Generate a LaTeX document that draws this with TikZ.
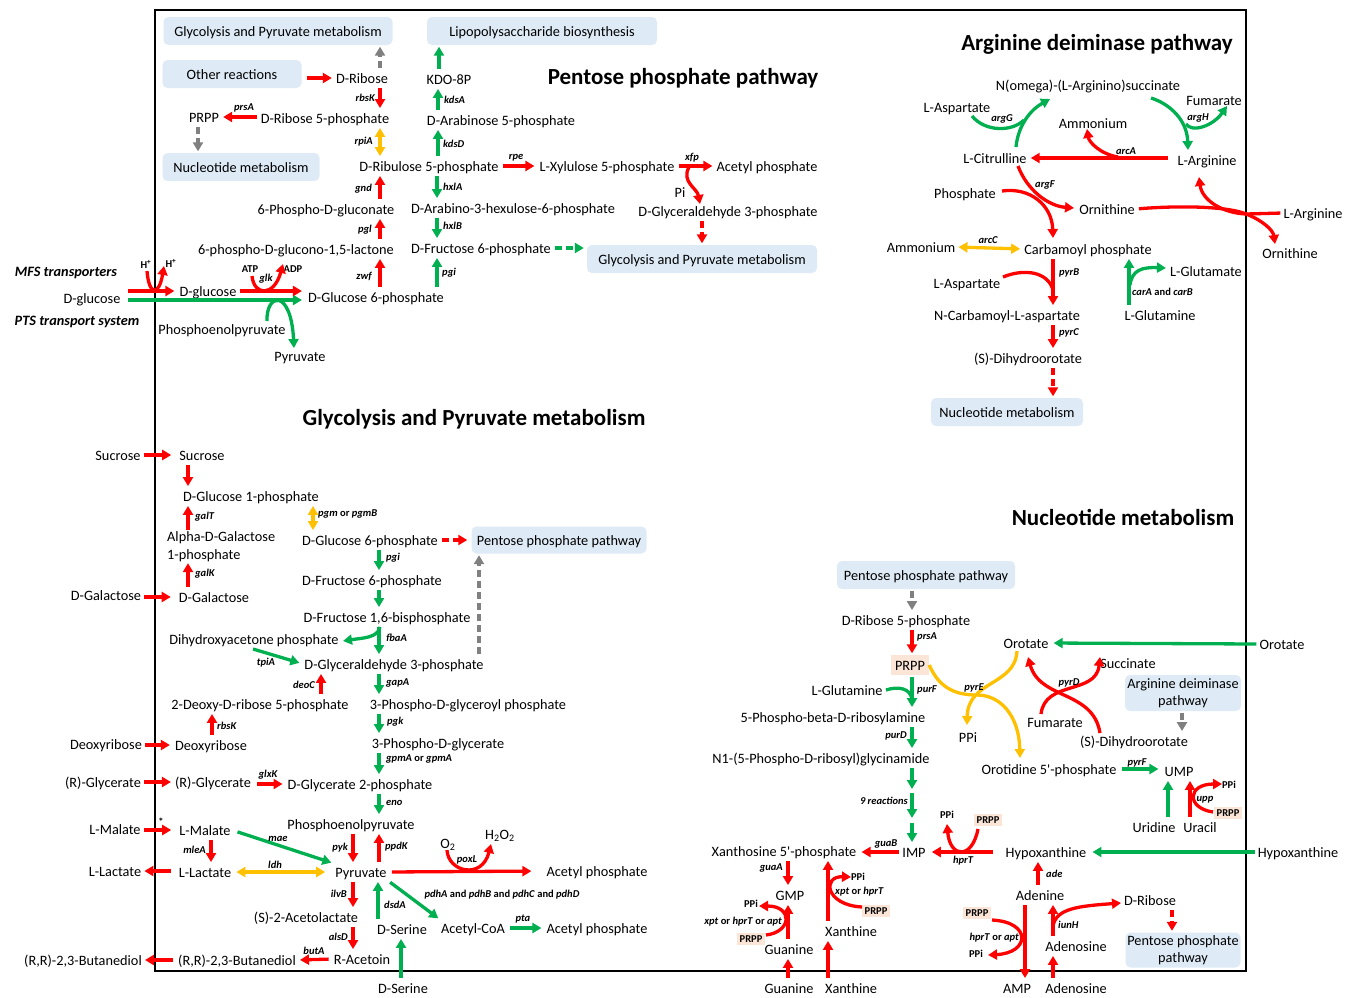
\documentclass[tikz,border=0pt]{standalone}
\usepackage{fontspec}
\setmainfont{Carlito}
\usetikzlibrary{arrows.meta}
\definecolor{cr}{RGB}{255,0,0}
\definecolor{cg}{RGB}{0,176,80}
\definecolor{cy}{RGB}{255,192,0}
\definecolor{cgr}{RGB}{128,128,128}
\definecolor{cbox}{RGB}{222,235,247}
\definecolor{cpe}{RGB}{251,229,214}
\tikzset{
  t/.style={font=\fontsize{14.3pt}{16pt}\selectfont, inner sep=1pt, text height=12.5pt, text depth=2pt},
  g/.style={font=\fontsize{10.5pt}{12pt}\selectfont\bfseries\itshape, inner sep=0pt},
  sm/.style={font=\fontsize{10.5pt}{12pt}\selectfont\bfseries, inner sep=0pt},
  smb/.style={sm, fill=cpe, inner xsep=3pt, inner ysep=3pt},
  bi/.style={font=\fontsize{14.3pt}{16pt}\selectfont\bfseries\itshape, inner sep=0pt},
  ttl/.style={font=\fontsize{23pt}{26pt}\selectfont\bfseries, inner sep=0pt},
  bx/.style={t, fill=cbox, rounded corners=5pt, minimum height=28pt},
  bxx/.style={font=\fontsize{14.3pt}{17.5pt}\selectfont, fill=cbox, rounded corners=5pt, align=center, inner sep=1pt},
  tipa/.style={-{Triangle[length=9pt,width=10pt]}},
  arr/.style={line width=3.3pt, tipa, shorten <=1.5pt, shorten >=1.5pt},
  ra/.style={arr, draw=cr},
  ga/.style={arr, draw=cg},
  ysa/.style={arr, draw=cy},
  ya/.style={arr, draw=cy, {Triangle[length=9pt,width=10pt]}-{Triangle[length=9pt,width=10pt]}},
  gra/.style={arr, draw=cgr},
  da/.style={dash pattern=on 7pt off 4pt},
  cv/.style={shorten <=0pt, shorten >=0pt},
  rl/.style={line width=3.3pt, draw=cr},
  gl/.style={line width=3.3pt, draw=cg},
}
\begin{document}
\begin{tikzpicture}[x=1pt,y=-1pt]
\fill[white] (0,0) rectangle (1351,997);
\useasboundingbox (0,0) rectangle (1351,997);
\draw[line width=1.8pt] (155,10) rectangle (1246,971);
% column coordinates
\foreach \xx in {380,198,439,438,437,700,702,267,294,1053,1129,188,313,379,479,321,212,211,353,378,401,912,788,828,1038,1025,1172,1182,1168,1190}
  {\coordinate (x\xx) at (\xx,0);}
\coordinate (y300) at (0,300);

% ================= Pentose phosphate pathway =================
\node[bx, minimum width=229pt] (bGly1) at (278,31) {Glycolysis and Pyruvate metabolism};
\node[bx, minimum width=139pt] (bOth) at (232,74) {Other reactions};
\node[bx, minimum width=157pt] (bNuc1) at (241,167) {Nucleotide metabolism};
\node[bx, minimum width=230pt] (bLPS) at (542,31) {Lipopolysaccharide biosynthesis};
\node[bx, minimum width=230pt] (bGly2) at (702,259) {Glycolysis and Pyruvate metabolism};
\node[ttl] (tPPP) at (683,78) {Pentose phosphate pathway};
\node[t] (dRib) at (362,78) {D-Ribose};
\node[t] (R5P) at (325,118) {D-Ribose 5-phosphate};
\node[t] (PRPP1) at (204,117) {PRPP};
\node[t] (Ru5P) at (429,166) {D-Ribulose 5-phosphate};
\node[t] (PGn) at (326,209) {6-Phospho-D-gluconate};
\node[t] (PGL) at (296,249) {6-phospho-D-glucono-1,5-lactone};
\node[t] (G6Pa) at (376,297) {D-Glucose 6-phosphate};
\node[t] (glcI) at (208,291) {D-glucose};
\node[t] (glcO) at (92,298) {D-glucose};
\node[bi] (MFS) at (66,273) {MFS transporters};
\node[bi] (PTS) at (77,322) {PTS transport system};
\node[t] (PEPa) at (222,329) {Phosphoenolpyruvate};
\node[t] (Pyra) at (300,356) {Pyruvate};
\node[t] (KDO) at (449,79) {KDO-8P};
\node[t] (A5P) at (501,120) {D-Arabinose 5-phosphate};
\node[t] (Xu5P) at (607,166) {L-Xylulose 5-phosphate};
\node[t] (AcPa) at (767,166) {Acetyl phosphate};
\node[t] (Pi) at (680,192) {Pi};
\node[t] (GAPa) at (728,211) {D-Glyceraldehyde 3-phosphate};
\node[t] (AH6P) at (513,208) {D-Arabino-3-hexulose-6-phosphate};
\node[t] (F6Pa) at (481,248) {D-Fructose 6-phosphate};
\node[sm] (Hp1) at (146,264) {H\textsuperscript{+}};
\node[sm] (Hp2) at (171,263) {H\textsuperscript{+}};
\node[sm] (ATP) at (250,269) {ATP};
\node[sm] (ADP) at (293,269) {ADP};

\draw[gra,da] (dRib.north -| x380) -- (bGly1.south -| x380);
\draw[ra, shorten <=5pt, shorten >=3pt] (bOth.east |- dRib) -- (dRib.west);
\draw[ra] (dRib.south -| x380) -- (R5P.north -| x380);
\node[g, anchor=east] (l1) at (375,98) {rbsK};
\draw[ra, shorten <=3pt, shorten >=3pt] (R5P.west |- PRPP1) -- (PRPP1.east);
\node[g] (l2) at (244,108) {prsA};
\draw[gra,da] (PRPP1.south -| x198) -- (bNuc1.north -| x198);
\draw[ya] (R5P.south -| x380) -- (Ru5P.north -| x380);
\node[g, anchor=east] (l3) at (373,142) {rpiA};
\draw[ra] (PGn.north -| x380) -- (Ru5P.south -| x380);
\node[g, anchor=east] (l4) at (372,189) {gnd};
\draw[ra] (PGL.north -| x380) -- (PGn.south -| x380);
\node[g, anchor=east] (l5) at (372,230) {pgl};
\draw[ra] (G6Pa.north -| x380) -- (PGL.south -| x380);
\node[g, anchor=east] (l6) at (372,276) {zwf};
\draw[ga] (KDO.north -| x439) -- (bLPS.south -| x439);
\draw[ga] (A5P.north -| x438) -- (KDO.south -| x438);
\node[g, anchor=west] (l7) at (444,100) {kdsA};
\draw[ga] (Ru5P.north -| x438) -- (A5P.south -| x438);
\node[g, anchor=west] (l8) at (443,144) {kdsD};
\draw[ga] (Ru5P.south -| x437) -- (AH6P.north -| x437);
\node[g, anchor=west] (l9) at (443,187) {hxlA};
\draw[ga] (AH6P.south -| x437) -- (F6Pa.north -| x437);
\node[g, anchor=west] (l10) at (443,226) {hxlB};
\draw[ga] (G6Pa.north -| x437) -- (F6Pa.south -| x437);
\node[g, anchor=west] (l11) at (442,273) {pgi};
\draw[ga,da, shorten <=3pt, shorten >=3pt] (F6Pa.east) -- (bGly2.west |- F6Pa.east);
\draw[ra, shorten <=3pt, shorten >=4pt] (Ru5P.east) -- (Xu5P.west);
\node[g] (l12) at (516,158) {rpe};
\draw[ra, shorten <=3pt, shorten >=3pt] (Xu5P.east) -- (AcPa.west);
\node[g] (l13) at (692,158) {xfp};
\coordinate (xfpJ) at (689,167);
\coordinate (xfpE) at (700,204);
\draw[ra, cv] (xfpJ) .. controls (681,182) and (697,188) .. (xfpE);
\draw[ra,da] (GAPa.south -| x702) -- (bGly2.north -| x702);
\draw[ra, shorten <=6pt, shorten >=4pt] (glcO.east |- glcI) -- (glcI.west);
\coordinate (hA) at (147,271);
\coordinate (hB) at (164,266);
\draw[ra, cv] (hA) .. controls (149,296) and (159,296) .. (hB);
\draw[ga, shorten <=6pt, shorten >=5pt] (glcO.east |- y300) -- (G6Pa.west |- y300);
\coordinate (pA) at (267,321);
\coordinate (pB) at (294,348);
\draw[ga, cv] (pA) .. controls (266,293) and (291,288) .. (pB);
\draw[ra, shorten <=2pt, shorten >=5pt] (glcI.east) -- (G6Pa.west |- glcI);
\coordinate (atpS) at (252,276);
\coordinate (adpE) at (283,264);
\draw[ra, cv] (atpS) .. controls (254,296) and (274,297) .. (adpE);
\node[g] (l14) at (266,279) {glk};

% ================= Arginine deiminase pathway =================
\node[ttl] (tADI) at (1097,44) {Arginine deiminase pathway};
\node[t] (NAS) at (1088,85) {N(omega)-(L-Arginino)succinate};
\node[t] (Asp1) at (957,107) {L-Aspartate};
\node[t] (Fum1) at (1214,100) {Fumarate};
\node[t] (Amm1) at (1093,123) {Ammonium};
\node[t] (Cit) at (995,158) {L-Citrulline};
\node[t] (Arg) at (1207,160) {L-Arginine};
\node[t] (Phos) at (965,193) {Phosphate};
\node[t] (Orn) at (1107,209) {Ornithine};
\node[t] (ArgO) at (1313,213) {L-Arginine};
\node[t] (OrnO) at (1290,253) {Ornithine};
\node[t] (Amm2) at (921,247) {Ammonium};
\node[t] (CP) at (1088,249) {Carbamoyl phosphate};
\node[t] (Glu) at (1206,271) {L-Glutamate};
\node[t] (Asp2) at (967,283) {L-Aspartate};
\node[t] (NCA) at (1007,315) {N-Carbamoyl-L-aspartate};
\node[t] (Gln1) at (1160,315) {L-Glutamine};
\node[t] (DHO1) at (1028,358) {(S)-Dihydroorotate};
\node[bx, minimum width=152pt] (bNuc2) at (1007,412) {Nucleotide metabolism};

\coordinate (a1) at (1016,147); \coordinate (a2) at (1050,99);
\draw[ga, cv] (a1) .. controls (1018,126) and (1030,110) .. (a2);
\coordinate (a3) at (972,116); \coordinate (a4) at (1024,120);
\draw[gl] (a3) .. controls (985,132) and (1012,132) .. (a4);
\node[g] (l15) at (1002,119) {argG};
\coordinate (a5) at (1151,98); \coordinate (a6) at (1188,150);
\draw[ga, cv] (a5) .. controls (1170,104) and (1187,120) .. (a6);
\coordinate (a7) at (1186,124); \coordinate (a8) at (1227,106);
\draw[ga, cv] (a7) .. controls (1192,133) and (1213,126) .. (a8);
\node[g] (l16) at (1198,118) {argH};
\draw[ra, shorten <=8pt, shorten >=3pt] (Arg.west |- Cit) -- (Cit.east);
\coordinate (a9) at (1118,157); \coordinate (a10) at (1087,129);
\draw[ra, cv] (a9) .. controls (1100,154) and (1089,142) .. (a10);
\node[g] (l17) at (1126,151) {arcA};
\coordinate (a11) at (1018,166); \coordinate (a12) at (1074,208);
\draw[ra, cv] (a11) .. controls (1027,190) and (1048,206) .. (a12);
\coordinate (a13) at (1002,191); \coordinate (a14) at (1053,238);
\draw[ra, cv] (a13) .. controls (1030,187) and (1052,205) .. (a14);
\node[g] (l18) at (1045,185) {argF};
\coordinate (a16) at (1246,214); \coordinate (a17) at (1275,244);
\draw[ra, shorten <=3pt, shorten >=0pt] (Orn.east) .. controls (1185,205) and (1230,207) .. (a16) .. controls (1262,220) and (1273,230) .. (a17);
\coordinate (a18) at (1199,177);
\draw[ra, shorten <=2pt, shorten >=0pt] (ArgO.west) -- (a16) .. controls (1222,213) and (1202,200) .. (a18);
\draw[ya, shorten <=2pt, shorten >=3pt] (Amm2.east) -- (CP.west);
\node[g] (l19) at (988,240) {arcC};
\draw[ra] (CP.south -| x1053) -- (NCA.north -| x1053);
\coordinate (a19) at (1003,277); \coordinate (a20) at (1053,290);
\draw[rl] (a19) .. controls (1025,268) and (1048,272) .. (a20);
\node[g, anchor=west] (l20) at (1059,273) {pyrB};
\draw[ga] (Gln1.north -| x1129) -- (CP.south -| x1129);
\coordinate (a21) at (1130,285); \coordinate (a22) at (1166,268);
\draw[ga, cv] (a21) .. controls (1132,270) and (1142,267) .. (a22);
\node[g, anchor=west] (l21) at (1132,292) {carA \textup{and} carB};
\draw[ra] (NCA.south -| x1053) -- (DHO1.north -| x1053);
\node[g, anchor=west] (l22) at (1059,333) {pyrC};
\draw[ra,da] (DHO1.south -| x1053) -- (bNuc2.north -| x1053);

% ================= Glycolysis and Pyruvate metabolism =================
\node[ttl] (tGly) at (474,419) {Glycolysis and Pyruvate metabolism};
\node[t] (SucO) at (118,455) {Sucrose};
\node[t] (SucI) at (202,455) {Sucrose};
\node[t] (G1P) at (251,496) {D-Glucose 1-phosphate};
\node[font=\fontsize{14.3pt}{18pt}\selectfont, align=left, anchor=north west, inner sep=0pt] (aGal) at (167,531) {Alpha-D-Galactose\\1-phosphate};
\node[t] (GalO) at (106,595) {D-Galactose};
\node[t] (GalI) at (214,597) {D-Galactose};
\node[t] (G6Pb) at (370,540) {D-Glucose 6-phosphate};
\node[bx, minimum width=175pt, minimum height=27pt] (bPPP2) at (559,540) {Pentose phosphate pathway};
\node[t] (F6Pb) at (372,580) {D-Fructose 6-phosphate};
\node[t] (FBP) at (387,617) {D-Fructose 1,6-bisphosphate};
\node[t] (DHAP) at (254,639) {Dihydroxyacetone phosphate};
\node[t] (GAPb) at (394,664) {D-Glyceraldehyde 3-phosphate};
\node[t] (dRP) at (260,704) {2-Deoxy-D-ribose 5-phosphate};
\node[t] (PGP) at (468,704) {3-Phospho-D-glyceroyl phosphate};
\node[t] (PG3) at (438,743) {3-Phospho-D-glycerate};
\node[t] (dRibO) at (106,744) {Deoxyribose};
\node[t] (dRibI) at (211,745) {Deoxyribose};
\node[t] (GlyO) at (103,782) {(R)-Glycerate};
\node[t] (GlyI) at (213,782) {(R)-Glycerate};
\node[t] (DG2P) at (360,784) {D-Glycerate 2-phosphate};
\node[t] (PEPb) at (351,824) {Phosphoenolpyruvate};
\node[t] (MalO) at (115,829) {L-Malate};
\node[sm] (star) at (161,822) {*};
\node[t] (MalI) at (205,830) {L-Malate};
\node[t] (LacI) at (205,872) {L-Lactate};
\node[t] (LacO) at (115,871) {L-Lactate};
\node[t] (Pyrb) at (361,872) {Pyruvate};
\node[t] (AcL) at (306,917) {(S)-2-Acetolactate};
\node[t] (SerI) at (402,929) {D-Serine};
\node[t] (Acn) at (362,959) {R-Acetoin};
\node[t] (BdI) at (237,960) {(R,R)-2,3-Butanediol};
\node[t] (BdO) at (83,960) {(R,R)-2,3-Butanediol};
\node[t] (SerO) at (403,988) {D-Serine};
\node[t] (AcPb) at (597,871) {Acetyl phosphate};
\node[t] (AcCoA) at (473,928) {Acetyl-CoA};
\node[t] (AcPc) at (597,928) {Acetyl phosphate};
\node[t] (O2) at (448,843) {O\textsubscript{2}};
\node[t] (H2O2) at (500,834) {H\textsubscript{2}O\textsubscript{2}};

\draw[ra, shorten <=2pt, shorten >=7pt] (SucO.east) -- (SucI.west);
\draw[ra] (SucI.south -| x188) -- (G1P.north -| x188);
\draw[ya] (G1P.south -| x313) -- (G6Pb.north -| x313);
\node[g, anchor=west] (l23) at (318,514) {pgm \textup{or} pgmB};
\draw[ra] (aGal.north -| x188) -- (G1P.south -| x188);
\node[g, anchor=west] (l24) at (195,517) {galT};
\draw[ra] (GalI.north -| x188) -- (aGal.south -| x188);
\node[g, anchor=west] (l25) at (195,574) {galK};
\draw[ra, shorten <=2pt, shorten >=7pt] (GalO.east |- GalI) -- (GalI.west);
\draw[ra,da, shorten <=3pt, shorten >=4pt] (G6Pb.east) -- (bPPP2.west |- G6Pb.east);
\draw[ga] (G6Pb.south -| x379) -- (F6Pb.north -| x379);
\node[g, anchor=west] (l26) at (386,558) {pgi};
\draw[ga] (F6Pb.south -| x379) -- (FBP.north -| x379);
\draw[ga] (FBP.south -| x379) -- (GAPb.north -| x379);
\node[g, anchor=west] (l27) at (386,638) {fbaA};
\coordinate (b1) at (380,627); \coordinate (b2) at (343,641);
\draw[ga, cv] (b1) .. controls (378,638) and (362,638) .. (b2);
\coordinate (b3) at (253,649);
\draw[ga, shorten <=0pt, shorten >=4pt] (b3) -- (GAPb.west);
\node[g] (l28) at (266,663) {tpiA};
\draw[gra,da] (GAPb.north -| x479) -- (bPPP2.south -| x479);
\draw[ra] (dRP.north -| x321) -- (GAPb.south -| x321);
\node[g, anchor=east] (l29) at (315,685) {deoC};
\draw[ga] (GAPb.south -| x379) -- (PGP.north -| x379);
\node[g, anchor=west] (l30) at (386,683) {gapA};
\draw[ga] (PGP.south -| x379) -- (PG3.north -| x379);
\node[g, anchor=west] (l31) at (387,722) {pgk};
\draw[ga] (PG3.south -| x379) -- (DG2P.north -| x379);
\node[g, anchor=west] (l32) at (386,759) {gpmA \textup{or} gpmA};
\draw[ra] (dRibI.north -| x212) -- (dRP.south -| x212);
\node[g, anchor=west] (l33) at (217,726) {rbsK};
\draw[ra, shorten <=2pt, shorten >=4pt] (dRibO.east |- dRibI) -- (dRibI.west);
\draw[ra, shorten <=2pt, shorten >=3pt] (GlyO.east) -- (GlyI.west);
\draw[ra, shorten <=5pt, shorten >=4pt] (GlyI.east |- DG2P) -- (DG2P.west);
\node[g] (l34) at (268,775) {glxK};
\draw[ga] (DG2P.south -| x379) -- (PEPb.north -| x379);
\node[g, anchor=west] (l35) at (386,803) {eno};
\draw[ra, shorten <=2pt, shorten >=7pt] (MalO.east |- MalI) -- (MalI.west);
\draw[ga, shorten <=6pt, shorten >=3pt] (MalI.east) -- (Pyrb.north west);
\node[g] (l36) at (278,839) {mae};
\draw[ra] (MalI.south -| x211) -- (LacI.north -| x211);
\node[g, anchor=east] (l37) at (206,850) {mleA};
\draw[ra, shorten <=7pt, shorten >=2pt] (LacI.west |- LacO) -- (LacO.east);
\draw[ya, shorten <=4pt, shorten >=9pt] (LacI.east) -- (Pyrb.west |- LacI.east);
\node[g] (l38) at (275,865) {ldh};
\draw[ra] (PEPb.south -| x353) -- (Pyrb.north -| x353);
\node[g, anchor=east] (l39) at (348,848) {pyk};
\draw[ra] (Pyrb.north -| x379) -- (PEPb.south -| x379);
\node[g, anchor=west] (l40) at (385,847) {ppdK};
\draw[ra] (Pyrb.south -| x353) -- (AcL.north -| x353);
\node[g, anchor=east] (l41) at (347,894) {ilvB};
\draw[ga] (SerI.north -| x378) -- (Pyrb.south -| x378);
\node[g, anchor=west] (l42) at (384,905) {dsdA};
\draw[ra] (AcL.south -| x353) -- (Acn.north -| x353);
\node[g, anchor=east] (l43) at (348,937) {alsD};
\draw[ga] (SerO.north -| x401) -- (SerI.south -| x401);
\draw[ra, shorten <=4pt, shorten >=3pt] (Acn.west) -- (BdI.east);
\node[g] (l44) at (314,951) {butA};
\draw[ra, shorten <=4pt, shorten >=2pt] (BdI.west) -- (BdO.east);
\draw[ra, shorten <=4pt, shorten >=14pt] (Pyrb.east) -- (AcPb.west);
\coordinate (b4) at (447,850); \coordinate (b5) at (491,844);
\draw[ra, cv] (b4) .. controls (448,872) and (482,880) .. (b5);
\node[g] (l45) at (467,860) {poxL};
\draw[ga, shorten <=3pt, shorten >=2pt] (Pyrb.south east) -- (AcCoA.north west);
\node[sm] (l46) at (502,895) {\textit{pdhA} and \textit{pdhB} and \textit{pdhC} and \textit{pdhD}};
\draw[ga, shorten <=4pt, shorten >=4pt] (AcCoA.east) -- (AcPc.west);
\node[g] (l47) at (523,919) {pta};

% ================= Nucleotide metabolism =================
\node[ttl] (tNuc) at (1123,517) {Nucleotide metabolism};
\node[bx, minimum width=178pt] (bPPP3) at (926,575) {Pentose phosphate pathway};
\node[t] (R5Pb) at (906,620) {D-Ribose 5-phosphate};
\node[t, fill=cpe, minimum width=38pt, minimum height=20pt] (PRPP2) at (910,665) {PRPP};
\node[t] (Gln2) at (847,690) {L-Glutamine};
\node[t] (PRA) at (833,717) {5-Phospho-beta-D-ribosylamine};
\node[t] (GAR) at (821,758) {N1-(5-Phospho-D-ribosyl)glycinamide};
\node[t] (IMP) at (914,852) {IMP};
\node[t] (XMP) at (784,851) {Xanthosine 5\textquotesingle-phosphate};
\node[t] (Hx) at (1046,852) {Hypoxanthine};
\node[t] (HxO) at (1298,852) {Hypoxanthine};
\node[t] (GMP) at (790,895) {GMP};
\node[t] (Gua) at (789,949) {Guanine};
\node[t] (GuaO) at (789,988) {Guanine};
\node[t] (Xan) at (851,931) {Xanthine};
\node[t] (XanO) at (851,988) {Xanthine};
\node[t] (Ade) at (1040,895) {Adenine};
\node[t] (AMP) at (1017,988) {AMP};
\node[t] (Ado) at (1076,946) {Adenosine};
\node[t] (AdoO) at (1076,988) {Adenosine};
\node[t] (dRibc) at (1150,900) {D-Ribose};
\node[bxx, minimum width=115pt, minimum height=35pt] (bPPP4) at (1183,950) {Pentose phosphate\\pathway};
\node[t] (Oro) at (1026,643) {Orotate};
\node[t] (OroO) at (1282,644) {Orotate};
\node[t] (Succ) at (1128,663) {Succinate};
\node[bxx, minimum width=116pt, minimum height=36pt] (bADI) at (1183,693) {Arginine deiminase\\pathway};
\node[t] (Fum2) at (1055,722) {Fumarate};
\node[t] (DHO2) at (1134,741) {(S)-Dihydroorotate};
\node[t] (PPia) at (968,737) {PPi};
\node[t] (OMP) at (1049,769) {Orotidine 5\textquotesingle-phosphate};
\node[t] (UMP) at (1179,771) {UMP};
\node[t] (Urd) at (1154,827) {Uridine};
\node[t] (Ura) at (1200,827) {Uracil};
\node[sm] (PPib) at (947,815) {PPi};
\node[smb] (PRPPb) at (988,820) {PRPP};
\node[sm] (PPic) at (751,904) {PPi};
\node[smb] (PRPPc) at (751,939) {PRPP};
\node[sm] (PPid) at (858,877) {PPi};
\node[smb] (PRPPd) at (876,911) {PRPP};
\node[smb] (PRPPe) at (977,913) {PRPP};
\node[sm] (PPie) at (976,954) {PPi};
\node[sm] (PPif) at (1229,785) {PPi};
\node[smb] (PRPPf) at (1228,813) {PRPP};

\draw[gra,da] (bPPP3.south -| x912) -- (R5Pb.north -| x912);
\draw[ra] (R5Pb.south -| x912) -- (PRPP2.north -| x912);
\node[g, anchor=west] (l48) at (917,637) {prsA};
\draw[ga] (PRPP2.south -| x912) -- (PRA.north -| x912);
\coordinate (n1) at (886,690); \coordinate (n2) at (912,700);
\draw[gl] (n1) .. controls (898,686) and (911,688) .. (n2);
\node[g, anchor=west] (l49) at (917,690) {purF};
\draw[ga] (PRA.south -| x912) -- (GAR.north -| x912);
\node[g, anchor=east] (l50) at (907,736) {purD};
\coordinate (n3) at (912,789); \coordinate (n4) at (912,793);
\coordinate (n5) at (912,818); \coordinate (n6) at (912,823);
\draw[ga, shorten >=0pt] (GAR.south -| x912) -- (n3);
\draw[ga, cv] (n4) -- (n5);
\node[g, anchor=east] (l51) at (908,801) {9 reactions};
\draw[ga, shorten <=0pt] (n6) -- (IMP.north -| x912);
\draw[ra, shorten <=2pt, shorten >=4pt] (IMP.west) -- (XMP.east |- IMP.west);
\node[g] (l52) at (886,844) {guaB};
\draw[ra, shorten <=12pt, shorten >=5pt] (Hx.west) -- (IMP.east);
\coordinate (n7) at (978,829); \coordinate (n8) at (947,824);
\draw[ra, cv] (n7) .. controls (972,860) and (950,858) .. (n8);
\node[g] (l53) at (963,861) {hprT};
\draw[ra] (XMP.south -| x788) -- (GMP.north -| x788);
\node[g, anchor=east] (l54) at (783,868) {guaA};
\draw[ra] (Gua.north -| x788) -- (GMP.south -| x788);
\coordinate (n9) at (766,935); \coordinate (n10) at (759,906);
\draw[ra, cv] (n9) .. controls (792,932) and (793,906) .. (n10);
\node[g, anchor=east] (l55) at (782,922) {xpt \textup{or} hprT \textup{or} apt};
\draw[ra] (GuaO.north -| x788) -- (Gua.south -| x788);
\draw[ra] (Xan.north -| x828) -- (XMP.south -| x828);
\coordinate (n11) at (862,907); \coordinate (n12) at (851,877);
\draw[ra, cv] (n11) .. controls (825,905) and (822,876) .. (n12);
\node[g, anchor=west] (l56) at (835,892) {xpt \textup{or} hprT};
\draw[ra] (XanO.north -| x828) -- (Xan.south -| x828);
\draw[ga, shorten <=2pt, shorten >=5pt] (HxO.west) -- (Hx.east);
\draw[ra] (Ade.north -| x1038) -- (Hx.south -| x1038);
\node[g, anchor=west] (l57) at (1046,874) {ade};
\draw[ra] (Ade.south -| x1025) -- (AMP.north -| x1025);
\coordinate (n13) at (992,920); \coordinate (n14) at (988,955);
\draw[ra, cv] (n13) .. controls (1032,922) and (1030,953) .. (n14);
\node[g, anchor=east] (l58) at (1019,938) {hprT \textup{or} apt};
\draw[ra] (Ado.north -| x1053) -- (Ade.south -| x1053);
\coordinate (n15) at (1053,926); \coordinate (n16) at (1121,903);
\draw[ra, cv] (n15) .. controls (1056,908) and (1080,906) .. (n16);
\node[g, anchor=west] (l59) at (1058,925) {iunH};
\draw[ra] (AdoO.north -| x1053) -- (Ado.south -| x1053);
\draw[ra,da] (dRibc.south -| x1172) -- (bPPP4.north -| x1172);
\draw[ga, shorten <=2pt, shorten >=4pt] (OroO.west) -- (Oro.east);
\coordinate (n17) at (1100,733); \coordinate (n18) at (1028,657);
\draw[ra, cv] (n17) .. controls (1093,690) and (1040,700) .. (n18);
\coordinate (n19) at (1041,714); \coordinate (n20) at (1100,657);
\draw[ra, cv] (n19) .. controls (1045,680) and (1096,695) .. (n20);
\node[g] (l60) at (1069,683) {pyrD};
\coordinate (n22) at (977,695); \coordinate (n23) at (1020,758);
\draw[ysa, cv] (PRPP2.east) .. controls (940,690) and (958,695) .. (n22) .. controls (1000,695) and (1019,715) .. (n23);
\coordinate (n24) at (1017,651); \coordinate (n25) at (967,725);
\draw[ysa, cv] (n24) .. controls (1015,686) and (968,680) .. (n25);
\node[g] (l61) at (974,688) {pyrE};
\draw[gra,da] (bADI.south -| x1182) -- (DHO2.north -| x1182);
\draw[ga, shorten <=4pt, shorten >=5pt] (OMP.east) -- (UMP.west |- OMP.east);
\node[g] (l62) at (1137,763) {pyrF};
\draw[ga] (Urd.north -| x1168) -- (UMP.south -| x1168);
\draw[ra] (Ura.north -| x1190) -- (UMP.south -| x1190);
\coordinate (n26) at (1213,812); \coordinate (n27) at (1222,784);
\draw[ra, cv] (n26) .. controls (1186,808) and (1187,784) .. (n27);
\node[g] (l63) at (1205,800) {upp};
\end{tikzpicture}
\end{document}
